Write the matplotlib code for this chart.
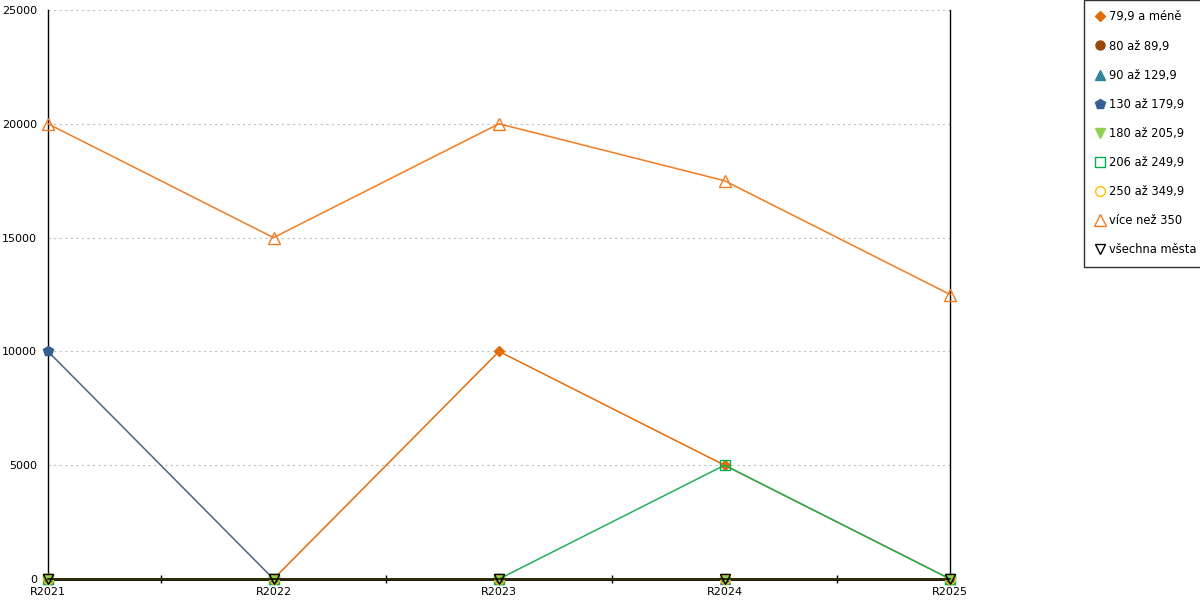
import matplotlib.pyplot as plt
from matplotlib.lines import Line2D

# ==========================
# Data
# ==========================
years = ["R2021", "R2022", "R2023", "R2024", "R2025"]

s_79 = [0, 0, 10000, 5000, 0]
s_80 = [0, 0, 0, 0, 0]
s_90 = [0, 0, 0, 0, 0]
s_130 = [10000, 0, 0, 0, 0]
s_180 = [0, 0, 0, 0, 0]
s_206 = [0, 0, 0, 5000, 0]
s_250 = [0, 0, 0, 0, 0]
s_350 = [20000, 15000, 20000, 17500, 12500]
s_all = [0, 0, 0, 0, 0]

labels = ["79,9 a méně", "80 až 89,9", "90 až 129,9", "130 až 179,9",
          "180 až 205,9", "206 až 249,9", "250 až 349,9", "více než 350",
          "všechna města"]

# ==========================
# Styles
# ==========================
styles = [
    dict(color="#E36C0A", marker="D", mfc="#E36C0A", mec="#E36C0A", ms=5.5),
    dict(color="#984807", marker="o", mfc="#984807", mec="#984807", ms=6.5),
    dict(color="#31859C", marker="^", mfc="#31859C", mec="#31859C", ms=7),
    dict(color="#4F6383", marker="p", mfc="#365F91", mec="#365F91", ms=7),
    dict(color="#92D050", marker="v", mfc="#92D050", mec="#92D050", ms=7.5),
    dict(color="#21B25A", marker="s", mfc="none", mec="#00B050", ms=7),
    dict(color="#FFC000", marker="o", mfc="none", mec="#FFC000", ms=7),
    dict(color="#F47B20", marker="^", mfc="none", mec="#F47B20", ms=8),
    dict(color="#000000", marker="v", mfc="none", mec="#000000", ms=7.5),
]

series = [s_79, s_80, s_90, s_130, s_180, s_206, s_250, s_350, s_all]

fig = plt.figure(figsize=(12, 6), dpi=100)
ax = fig.add_axes([0.04, 0.035, 0.7517, 0.9483])

x = list(range(len(years)))
handles = []
for vals, st in zip(series, styles):
    ax.plot(x, vals, color=st["color"], lw=1.1, marker=st["marker"],
            markerfacecolor=st["mfc"], markeredgecolor=st["mec"],
            markersize=st["ms"], markeredgewidth=1, clip_on=False, zorder=3)
    handles.append(Line2D([], [], ls="none", marker=st["marker"],
                          markerfacecolor=st["mfc"], markeredgecolor=st["mec"],
                          markersize=st["ms"], markeredgewidth=1))

ax.set_xlim(0, 4)
ax.set_ylim(0, 25000)
ax.set_yticks([0, 5000, 10000, 15000, 20000, 25000])
ax.set_xticks(x)
ax.set_xticklabels(years)
ax.set_xticks([0.5, 1.5, 2.5, 3.5], minor=True)
ax.tick_params(axis="x", which="major", length=0, labelsize=8, pad=6)
ax.tick_params(axis="x", which="minor", length=6, direction="inout", width=1)
ax.tick_params(axis="y", length=0, labelsize=8, pad=8)

ax.yaxis.grid(True, color="#C0C0C0", ls=(0, (2, 3)), lw=0.8)
ax.set_axisbelow(True)

ax.spines["top"].set_visible(False)
ax.spines["left"].set_linewidth(1)
ax.spines["right"].set_linewidth(1)
ax.spines["bottom"].set_linewidth(2)

fig.legend(handles, labels, loc="upper left", bbox_to_anchor=(0.9033, 1.0),
           frameon=True, fancybox=False, edgecolor="black", fontsize=8.3,
           labelspacing=1.4, handletextpad=0.3, handlelength=1.0,
           borderpad=0.9, borderaxespad=0)

plt.savefig("out.png", dpi=100)
